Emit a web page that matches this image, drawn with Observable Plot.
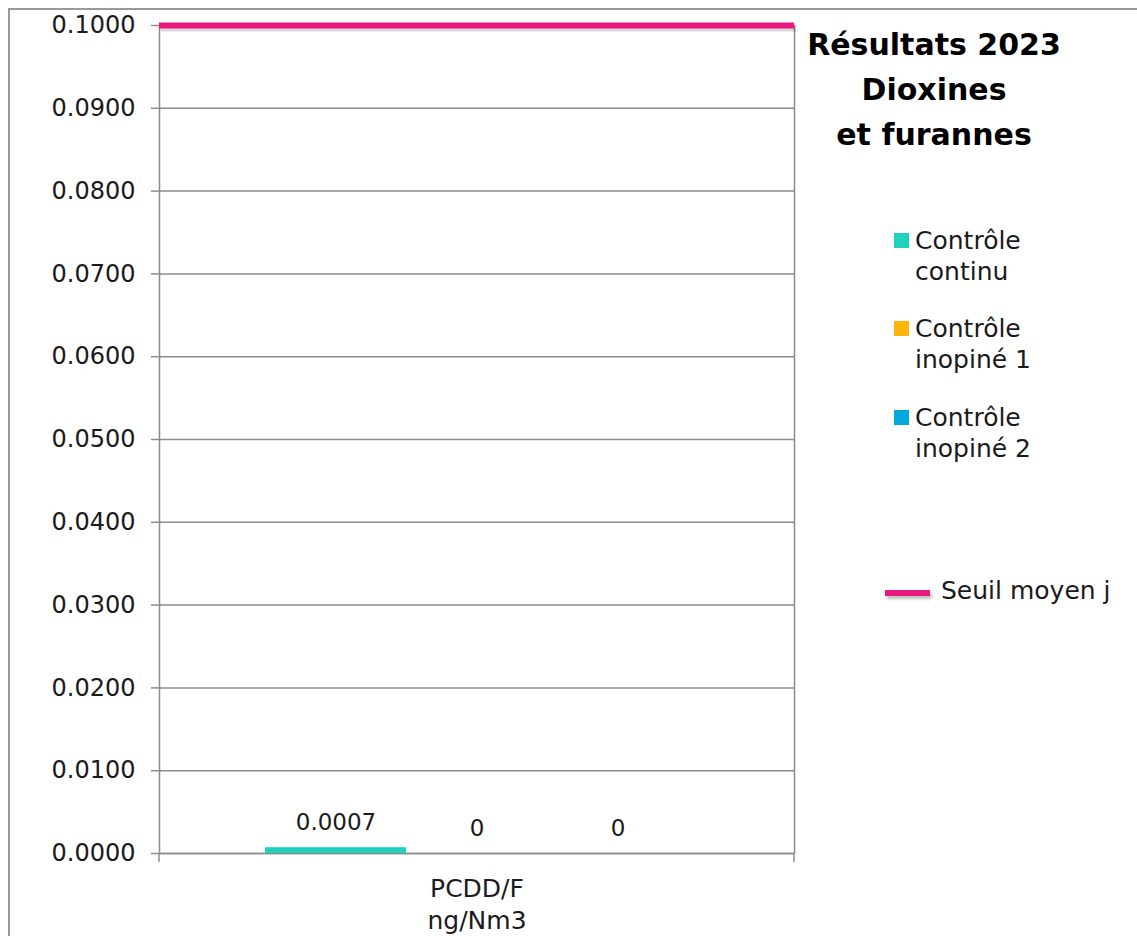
<!DOCTYPE html>
<html>
<head>
<meta charset="utf-8">
<script src="https://cdn.jsdelivr.net/npm/d3@7"></script>
<script src="https://cdn.jsdelivr.net/npm/@observablehq/plot@0.6"></script>
<style>
  html, body { margin: 0; padding: 0; background: #fff; }
  #wrap { position: relative; width: 1137px; height: 936px; overflow: hidden; background: #fff; font-family: "DejaVu Sans", sans-serif; color: #1a1a1a; }
  #border { position: absolute; left: 8px; top: 8px; width: 1200px; height: 1000px; border-top: 2px solid #9a9a9a; border-left: 2px solid #9a9a9a; }
  #chart { position: absolute; left: 0; top: 0; }
  #title { position: absolute; left: 734px; top: 22px; width: 400px; text-align: center; font-weight: bold; font-size: 30px; line-height: 45px; color: #000; }
  #legend { position: absolute; left: 0; top: 0; }
  .item { position: absolute; left: 915px; font-size: 25px; line-height: 31px; white-space: pre; }
  .sw { position: absolute; width: 15px; height: 15px; left: 894px; }
  .line { position: absolute; left: 885px; width: 45px; height: 6px; box-shadow: 2px 3px 3px rgba(0,0,0,0.25); }
</style>
</head>
<body>
<div id="wrap">
  <div id="border"></div>
  <div id="chart"></div>
  <div id="title"></div>
  <div id="legend"></div>
</div>
<script>
// ---- data ----
const categories = ["PCDD/F\nng/Nm3"];
const series = ["Contrôle continu", "Contrôle inopiné 1", "Contrôle inopiné 2"];
const seriesLegendLabels = ["Contrôle\ncontinu", "Contrôle\ninopiné 1", "Contrôle\ninopiné 2"];
const values = [0.0007, 0, 0];
const seriesColors = ["#20D2BD", "#FFB40A", "#00A8DC"];
const thresholdLabel = "Seuil moyen j";
const thresholdValue = [0.1];
const thresholdColor = "#E8187E";
const yTicks = [0, 0.01, 0.02, 0.03, 0.04, 0.05, 0.06, 0.07, 0.08, 0.09, 0.1];
const titleLines = ["Résultats 2023", "Dioxines", "et furannes"];

const data = series.map((s, i) => ({category: categories[0], series: s, value: values[i]}));
const grey = "#8c8c8c";

function edgeTicks(index, scales, vals, dims) {
  const g = d3.create("svg:g").attr("stroke", grey).attr("stroke-width", 1.5);
  const y0 = dims.height - dims.marginBottom;
  for (const x of [dims.marginLeft, dims.width - dims.marginRight]) {
    g.append("line").attr("x1", x).attr("x2", x).attr("y1", y0).attr("y2", y0 + 9);
  }
  return g.node();
}

const chart = Plot.plot({
  width: 1137,
  height: 936,
  marginLeft: 159,
  marginRight: 343,
  marginTop: 25,
  marginBottom: 83,
  style: {fontFamily: "DejaVu Sans", fontSize: "24px", color: "#1a1a1a", background: "transparent", overflow: "visible"},
  fx: {domain: categories, padding: 0, label: null},
  x: {domain: series, paddingInner: 0, paddingOuter: 0.736, axis: null},
  y: {domain: [0, 0.1], label: null},
  color: {domain: series, range: seriesColors},
  marks: [
    Plot.gridY(yTicks, {stroke: grey, strokeOpacity: 1, strokeWidth: 1.5}),
    Plot.frame({stroke: grey, strokeWidth: 1.5}),
    Plot.axisY(yTicks, {tickFormat: d3.format(".4f"), tickSize: 8, tickPadding: 16, fontSize: 24, stroke: grey, strokeWidth: 1.5, label: null}),
    Plot.axisFx({anchor: "bottom", tickSize: 0, tickPadding: 20, fontSize: 25, lineHeight: 1.3, label: null}),
    edgeTicks,
    Plot.barY(data, {fx: "category", x: "series", y: "value", fill: "series"}),
    Plot.text(data, {fx: "category", x: "series", y: "value", text: d => String(d.value), dy: -25, fontSize: 23, fill: "#1a1a1a"}),
    Plot.ruleY(thresholdValue, {stroke: "#000", strokeOpacity: 0.15, strokeWidth: 6, dy: 3, dx: 2}),
    Plot.ruleY(thresholdValue, {stroke: thresholdColor, strokeWidth: 6})
  ]
});
document.getElementById("chart").appendChild(chart);

// title
document.getElementById("title").innerHTML = titleLines.join("<br>");

// legend
const legend = document.getElementById("legend");
series.forEach((s, i) => {
  const center = 240 + i * 88.5;
  const sw = document.createElement("div");
  sw.className = "sw";
  sw.style.background = seriesColors[i];
  sw.style.top = (center - 7.5) + "px";
  legend.appendChild(sw);
  const t = document.createElement("div");
  t.className = "item";
  t.style.top = (center - 15.5) + "px";
  t.textContent = seriesLegendLabels[i];
  legend.appendChild(t);
});
const ln = document.createElement("div");
ln.className = "line";
ln.style.background = thresholdColor;
ln.style.top = (593 - 3) + "px";
legend.appendChild(ln);
const lt = document.createElement("div");
lt.className = "item";
lt.style.left = "941px";
lt.style.top = (590 - 15.5) + "px";
lt.textContent = thresholdLabel;
legend.appendChild(lt);
</script>
</body>
</html>
